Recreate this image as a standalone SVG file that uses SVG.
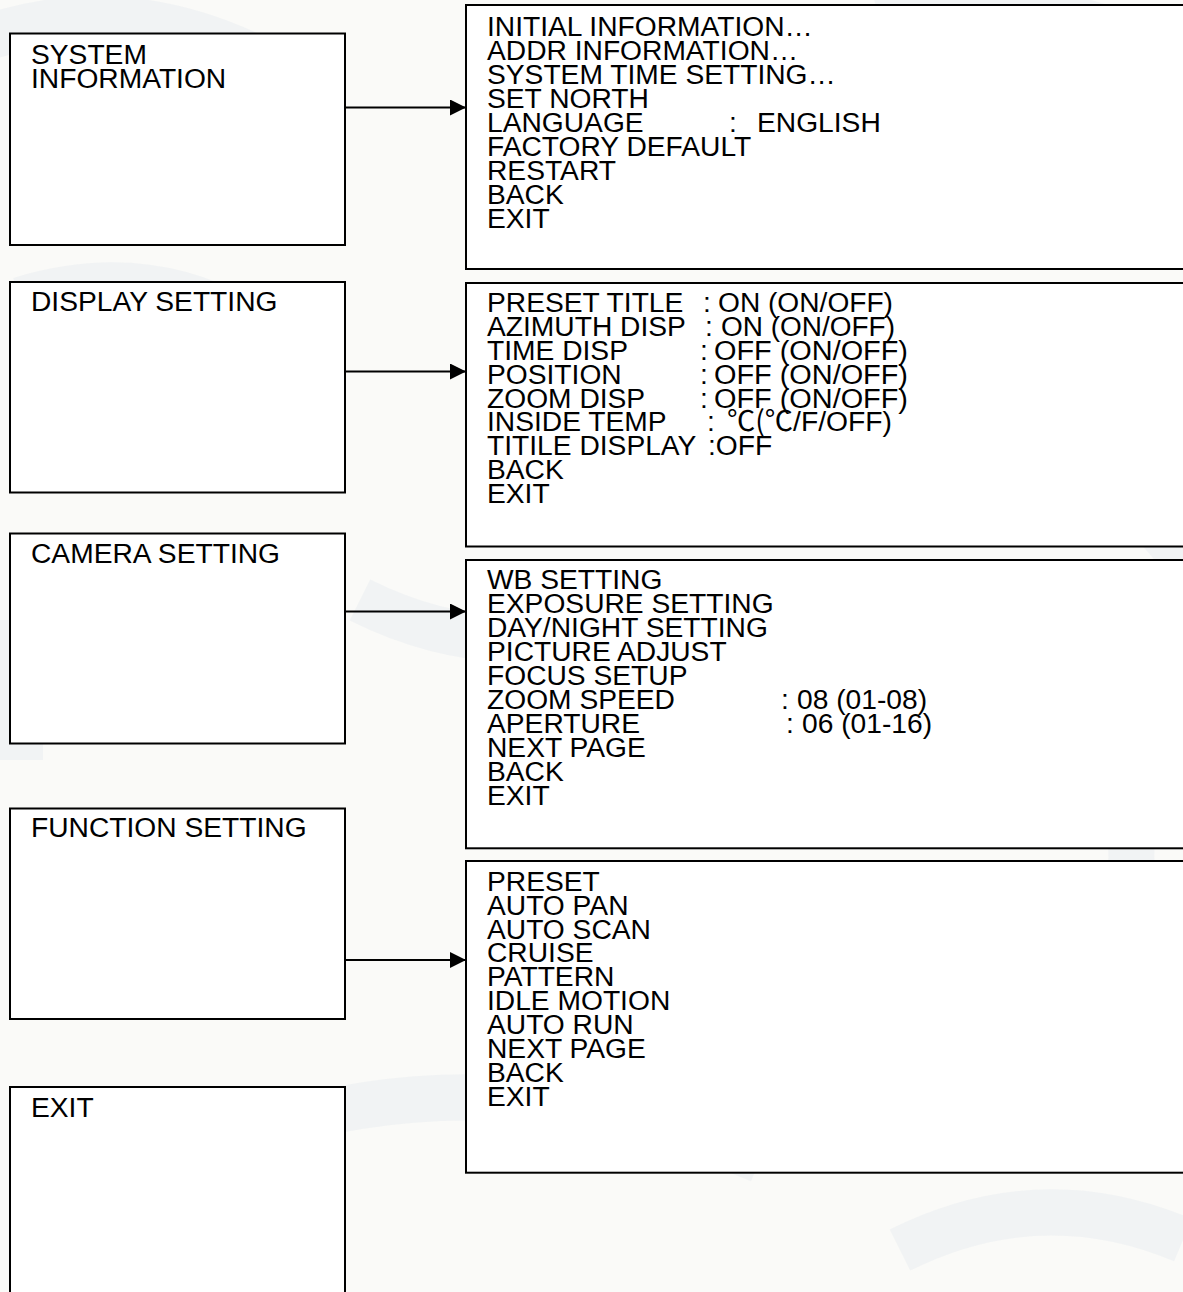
<svg xmlns="http://www.w3.org/2000/svg" width="1183" height="1292" viewBox="0 0 1183 1292">
<defs>
<style>
.bg{fill:#fafaf8}
.wm{fill:none;stroke:#e6eaef;stroke-width:46;opacity:0.45}
.box{fill:#ffffff;stroke:#000000;stroke-width:2}
.t{font-family:"Liberation Sans",Arial,"Noto Sans CJK SC",sans-serif;font-size:28.2px;fill:#000000}
.cjk{font-family:"Noto Sans CJK SC","Liberation Sans",sans-serif}
.conn{stroke:#000000;stroke-width:2;fill:none}
</style>
<marker id="arrow" viewBox="0 0 16 16" refX="16" refY="8" markerWidth="16" markerHeight="16" markerUnits="userSpaceOnUse" orient="auto">
<path d="M0,0 L16,8 L0,16 Z" fill="#000000"/>
</marker>
</defs>
<rect class="bg" x="0" y="0" width="1183" height="1292"/>
<g id="watermark">
<path class="wm" d="M-20,40 Q120,-10 260,60"/>
<path class="wm" d="M880,20 Q1020,-20 1183,60"/>
<path class="wm" d="M20,300 Q150,260 260,330"/>
<path class="wm" d="M360,600 Q520,680 700,600"/>
<path class="wm" d="M1000,420 Q1120,470 1183,560"/>
<path class="wm" d="M1130,820 Q1140,950 1080,1040"/>
<path class="wm" d="M200,1150 Q480,1040 760,1160"/>
<path class="wm" d="M20,620 L20,760"/>
<path class="wm" d="M900,1250 Q1040,1180 1183,1240"/>
</g>
<g id="connectors">
<line class="conn" x1="345" y1="107.5" x2="466" y2="107.5" marker-end="url(#arrow)"/>
<line class="conn" x1="345" y1="371.5" x2="466" y2="371.5" marker-end="url(#arrow)"/>
<line class="conn" x1="345" y1="611.5" x2="466" y2="611.5" marker-end="url(#arrow)"/>
<line class="conn" x1="345" y1="960" x2="466" y2="960" marker-end="url(#arrow)"/>
</g>
<g id="node-system-information">
<rect class="box" x="10" y="33.5" width="335" height="211.5"/>
<text class="t" x="31" y="64">SYSTEM</text>
<text class="t" x="31" y="88">INFORMATION</text>
</g>
<g id="node-display-setting">
<rect class="box" x="10" y="282" width="335" height="210.5"/>
<text class="t" x="31" y="311">DISPLAY SETTING</text>
</g>
<g id="node-camera-setting">
<rect class="box" x="10" y="533.5" width="335" height="210"/>
<text class="t" x="31" y="562.5">CAMERA SETTING</text>
</g>
<g id="node-function-setting">
<rect class="box" x="10" y="808.5" width="335" height="210.5"/>
<text class="t" x="31" y="836.5">FUNCTION SETTING</text>
</g>
<g id="node-exit">
<rect class="box" x="10" y="1087" width="335" height="220"/>
<text class="t" x="31" y="1116.5">EXIT</text>
</g>
<g id="node-system-menu">
<rect class="box" x="466" y="5" width="740" height="264"/>
<text class="t" x="487" y="35.7">INITIAL INFORMATION…</text>
<text class="t" x="487" y="59.7">ADDR INFORMATION…</text>
<text class="t" x="487" y="83.7">SYSTEM TIME SETTING…</text>
<text class="t" x="487" y="107.7">SET NORTH</text>
<text class="t" x="487" y="131.7">LANGUAGE<tspan x="729">:</tspan><tspan x="757">ENGLISH</tspan></text>
<text class="t" x="487" y="155.7">FACTORY DEFAULT</text>
<text class="t" x="487" y="179.7">RESTART</text>
<text class="t" x="487" y="203.7">BACK</text>
<text class="t" x="487" y="227.7">EXIT</text>
</g>
<g id="node-display-menu">
<rect class="box" x="466" y="283" width="740" height="263.5"/>
<text class="t" x="487" y="312.3">PRESET TITLE<tspan x="703">:</tspan></text>
<text class="t" x="718" y="312.3" textLength="175" lengthAdjust="spacingAndGlyphs">ON (ON/OFF)</text>
<text class="t" x="487" y="336.1">AZIMUTH DISP<tspan x="705">:</tspan></text>
<text class="t" x="721" y="336.1" textLength="174" lengthAdjust="spacingAndGlyphs">ON (ON/OFF)</text>
<text class="t" x="487" y="359.9">TIME DISP<tspan x="700">:</tspan></text>
<text class="t" x="714" y="359.9" textLength="194" lengthAdjust="spacingAndGlyphs">OFF (ON/OFF)</text>
<text class="t" x="487" y="383.7">POSITION<tspan x="700">:</tspan></text>
<text class="t" x="714" y="383.7" textLength="194" lengthAdjust="spacingAndGlyphs">OFF (ON/OFF)</text>
<text class="t" x="487" y="407.5">ZOOM DISP<tspan x="700">:</tspan></text>
<text class="t" x="714" y="407.5" textLength="194" lengthAdjust="spacingAndGlyphs">OFF (ON/OFF)</text>
<text class="t" x="487" y="431.3">INSIDE TEMP<tspan x="707">:</tspan></text>
<text class="t" x="727" y="431.3" textLength="165" lengthAdjust="spacingAndGlyphs"><tspan class="cjk">℃(℃</tspan>/F/OFF)</text>
<text class="t" x="487" y="455.1">TITILE DISPLAY<tspan x="708">:OFF</tspan></text>
<text class="t" x="487" y="478.9">BACK</text>
<text class="t" x="487" y="502.7">EXIT</text>
</g>
<g id="node-camera-menu">
<rect class="box" x="466" y="560" width="740" height="288.3"/>
<text class="t" x="487" y="589.3">WB SETTING</text>
<text class="t" x="487" y="613.3">EXPOSURE SETTING</text>
<text class="t" x="487" y="637.3">DAY/NIGHT SETTING</text>
<text class="t" x="487" y="661.3">PICTURE ADJUST</text>
<text class="t" x="487" y="685.3">FOCUS SETUP</text>
<text class="t" x="487" y="709.3">ZOOM SPEED<tspan x="781">:</tspan><tspan x="797">08 (01-08)</tspan></text>
<text class="t" x="487" y="733.3">APERTURE<tspan x="786">:</tspan><tspan x="802">06 (01-16)</tspan></text>
<text class="t" x="487" y="757.3">NEXT PAGE</text>
<text class="t" x="487" y="781.3">BACK</text>
<text class="t" x="487" y="805.3">EXIT</text>
</g>
<g id="node-function-menu">
<rect class="box" x="466" y="861" width="740" height="311.7"/>
<text class="t" x="487" y="890.7">PRESET</text>
<text class="t" x="487" y="914.6">AUTO PAN</text>
<text class="t" x="487" y="938.5">AUTO SCAN</text>
<text class="t" x="487" y="962.4">CRUISE</text>
<text class="t" x="487" y="986.3">PATTERN</text>
<text class="t" x="487" y="1010.2">IDLE MOTION</text>
<text class="t" x="487" y="1034.1">AUTO RUN</text>
<text class="t" x="487" y="1058">NEXT PAGE</text>
<text class="t" x="487" y="1081.9">BACK</text>
<text class="t" x="487" y="1105.8">EXIT</text>
</g>
</svg>
